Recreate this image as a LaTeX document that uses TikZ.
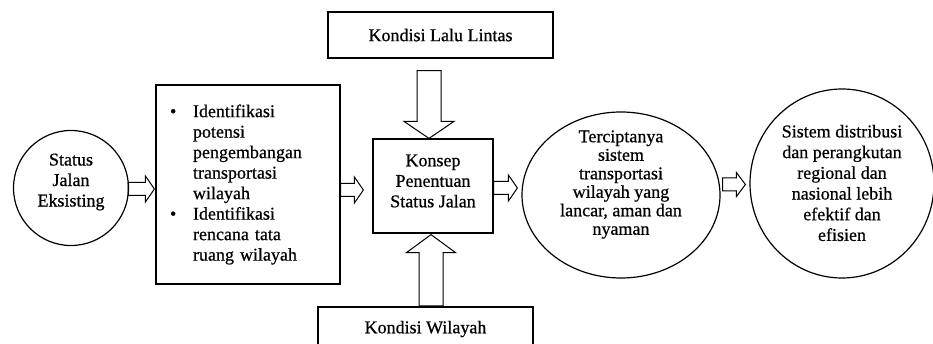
\documentclass[tikz,border=0pt]{standalone}
\usepackage{fontspec}
\setmainfont{Liberation Serif}[FakeBold=0.6]
\usetikzlibrary{shapes.geometric,calc}
\tikzset{
  every node/.style={font=\fontsize{18}{20.5}\selectfont},
  box/.style={draw,line width=1.2pt,rectangle,inner sep=0pt,align=center},
  circ/.style={draw,line width=1.2pt,ellipse,inner sep=0pt},
  txt/.style={align=center,inner sep=0pt},
  arrowline/.style={draw,line width=1pt,line join=miter},
}
\newcommand\blockarr[5]{%
  \coordinate (ba-s) at (#4);
  \coordinate (ba-t) at (#5);
  \coordinate (ba-h) at ($(ba-t)!#3!(ba-s)$);
  \draw[arrowline] ($(ba-s)!#1!90:(ba-t)$) -- ($(ba-h)!#1!90:(ba-t)$) -- ($(ba-h)!#2!90:(ba-t)$) -- (ba-t)
    -- ($(ba-h)!#2!-90:(ba-t)$) -- ($(ba-h)!#1!-90:(ba-t)$) -- ($(ba-s)!#1!-90:(ba-t)$) -- cycle;
}
\begin{document}
\begin{tikzpicture}[x=1pt,y=-1pt]
  \useasboundingbox[fill=white] (0,0) rectangle (933,344);
  \clip (0,0) rectangle (933,344);
  % shapes
  \node[circ,minimum width=115pt,minimum height=115pt] (c1) at (71,188) {};
  \node[txt] (c1t) at (71,182) {Status\\Jalan\\Eksisting};
  \node[box,minimum height=199pt,text width=156pt,inner xsep=14pt,align=left] (b1) at (248,184.5)
    {\makebox[23pt][l]{\textbullet}Identifikasi\\
     \hspace*{23pt}potensi\\
     \hspace*{23pt}pengembangan\\
     \hspace*{23pt}transportasi\\
     \hspace*{23pt}wilayah\\
     \makebox[23pt][l]{\textbullet}Identifikasi\\
     \hspace*{23pt}rencana tata\\
     \hspace*{23pt}ruang wilayah};
  \node[box,minimum width=120pt,minimum height=94pt] (k) at (433,186) {};
  \node[txt] (kt) at (433,181) {Konsep\\Penentuan\\Status Jalan};
  \node[box,minimum width=225pt,minimum height=46pt] (top) at (440.5,35) {Kondisi Lalu Lintas};
  \node[box,minimum width=215pt,minimum height=44pt] (bot) at (425.5,329) {Kondisi Wilayah};
  \node[circ,minimum width=198pt,minimum height=166pt] (c3) at (621,195) {};
  \node[txt,font=\fontsize{18}{18.5}\selectfont] (c3t) at (621,184.5)
    {Terciptanya\\sistem\\transportasi\\wilayah yang\\lancar, aman dan\\nyaman};
  \node[circ,minimum width=184pt,minimum height=189pt] (c4) at (842,183.5) {};
  \node[txt,font=\fontsize{18}{20.7}\selectfont] (c4t) at (842,183)
    {Sistem distribusi\\dan perangkutan\\regional dan\\nasional lebih\\efektif dan\\efisien};
  % connectors
  \blockarr{6.5pt}{13pt}{9pt}{$(c1.east)+(-1,1)$}{$(b1.west |- c1.east)+(-1,1)$}
  \blockarr{6.5pt}{13pt}{9pt}{$(b1.east |- k.west)+(0,4)$}{$(k.west)+(-9,4)$}
  \blockarr{6.5pt}{13pt}{9pt}{$(k.east)+(0,2)$}{$(c3.west)+(-4,-7)$}
  \blockarr{6.5pt}{12pt}{9pt}{$(c3.east)+(2,-10.5)$}{$(c4.west)+(-4,1)$}
  \blockarr{12pt}{25pt}{17pt}{$(k.north |- top.south)+(-4,12)$}{$(k.north)+(-4,0)$}
  \blockarr{12pt}{24.5pt}{18pt}{$(k.south |- bot.north)+(-2,-0.5)$}{$(k.south)+(-2,1)$}
\end{tikzpicture}
\end{document}
